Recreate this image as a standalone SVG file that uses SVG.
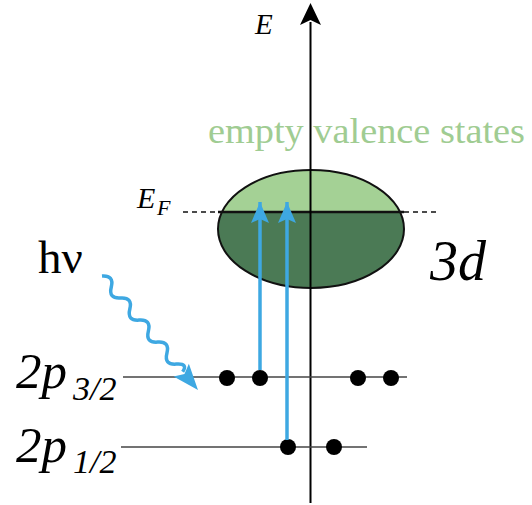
<svg xmlns="http://www.w3.org/2000/svg" width="532" height="505" viewBox="0 0 532 505">
<style>
text{font-family:"Liberation Serif","Times New Roman",serif;}
.it{font-style:italic;}
.lvl{stroke:#444;stroke-width:1.5;fill:none;}
.dot{fill:#000;}
.blue{stroke:#3ea8e2;stroke-width:3.5;fill:none;}
</style>
<defs>
<clipPath id="lower"><rect x="200" y="212" width="220" height="90"/></clipPath>
<marker id="bh" markerUnits="userSpaceOnUse" markerWidth="22" markerHeight="20" viewBox="0 0 22 20" refX="21" refY="10" orient="auto">
<polygon points="21,10 0,1 4,10 0,19" fill="#3ea8e2"/>
</marker>
</defs>
<rect width="532" height="505" fill="#fff"/>

<g id="band3d">
<ellipse cx="311" cy="229" rx="93" ry="59" fill="#a4d195"/>
<ellipse cx="311" cy="229" rx="93" ry="59" fill="#4b7a55" clip-path="url(#lower)"/>
<ellipse cx="311" cy="229" rx="93" ry="59" fill="none" stroke="#111" stroke-width="2"/>
<line x1="218" y1="212" x2="404" y2="212" stroke="#111" stroke-width="2.5"/>
</g>

<g id="fermi">
<line x1="183" y1="212" x2="218" y2="212" stroke="#111" stroke-width="1.5" stroke-dasharray="5,4"/>
<line x1="404" y1="212" x2="437" y2="212" stroke="#111" stroke-width="1.5" stroke-dasharray="5,4"/>
<text class="it" x="137" y="208" font-size="30">E</text>
<text class="it" x="157" y="215" font-size="22">F</text>
</g>

<g id="axis">
<line x1="310.5" y1="22" x2="310.5" y2="503" stroke="#000" stroke-width="2"/>
<polygon points="310.5,3 321,25 310.5,20 300,25" fill="#000"/>
<text class="it" x="255" y="34" font-size="29">E</text>
</g>

<g id="label-empty">
<text x="208" y="143" font-size="35" fill="#a0cc92" textLength="317" lengthAdjust="spacingAndGlyphs">empty valence states</text>
</g>

<g id="label-3d">
<text class="it" x="430" y="280" font-size="56">3d</text>
</g>

<g id="label-hv">
<text x="38" y="273" font-size="47">hν</text>
</g>

<g id="level-2p32">
<line class="lvl" x1="123" y1="377" x2="407" y2="377"/>
<text class="it" x="16" y="388" font-size="51">2p</text>
<text class="it" x="73" y="400" font-size="34">3/2</text>
<circle class="dot" cx="227" cy="378" r="8"/>
<circle class="dot" cx="260" cy="378" r="8"/>
<circle class="dot" cx="358" cy="378" r="8"/>
<circle class="dot" cx="391" cy="378" r="8"/>
</g>

<g id="level-2p12">
<line class="lvl" x1="121" y1="447" x2="367" y2="447"/>
<text class="it" x="16" y="462" font-size="51">2p</text>
<text class="it" x="73" y="473" font-size="34">1/2</text>
<circle class="dot" cx="288" cy="447" r="8"/>
<circle class="dot" cx="334" cy="447" r="8"/>
</g>

<g id="connectors">
<line class="blue" x1="260" y1="370" x2="260" y2="202" marker-end="url(#bh)"/>
<line class="blue" x1="287" y1="440" x2="287" y2="202" marker-end="url(#bh)"/>
<g transform="translate(102,276) rotate(49.9)">
<path class="blue" d="M0,0 q7.2,-10 14.4,0 t14.4,0 t14.4,0 t14.4,0 t14.4,0 t14.4,0 t14.4,0 t14.4,0 t10,0"/>
<polygon points="149,0 123,-10 128,0 123,10" fill="#3ea8e2"/>
</g>
</g>
</svg>
